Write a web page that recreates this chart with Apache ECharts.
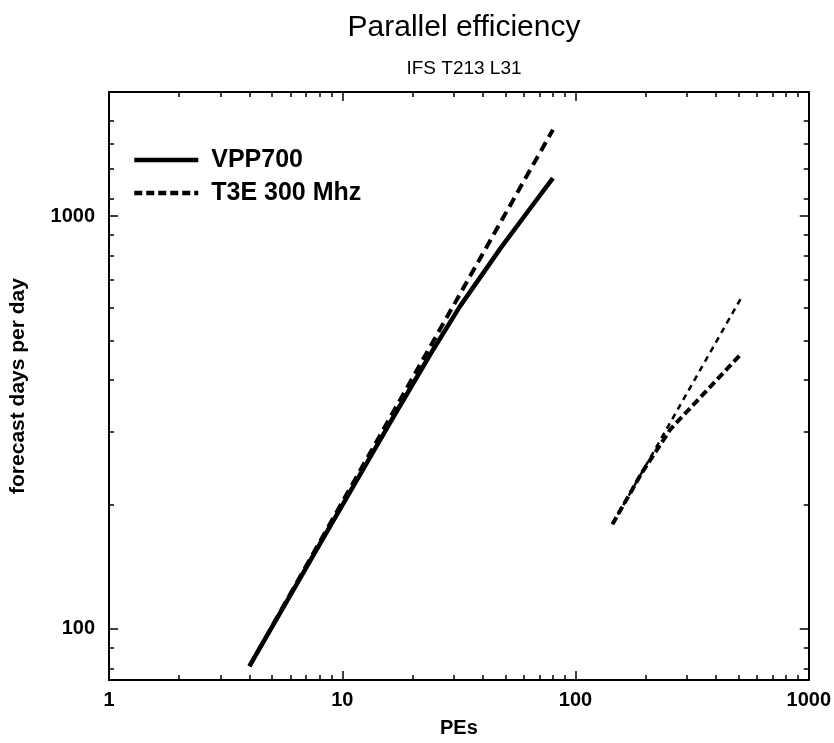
<!DOCTYPE html>
<html>
<head>
<meta charset="UTF-8">
<script src="https://cdn.jsdelivr.net/npm/echarts@6.0.0/dist/echarts.min.js"></script>
<style>
body { margin:0; padding:0; background:#fff; }
#chart { width:834px; height:743px; }
</style>
</head>
<body><div id="chart"></div>
<script>
// data (PEs vs forecast days per day)
var vppPEs = [4, 8, 16, 24, 32, 48, 64, 80];
var vppRate = [81, 160, 315, 465, 605, 840, 1045, 1237];
var vppIdealPEs = [4, 80];
var vppIdealRate = [81, 1620];
var t3ePEs = [144, 192, 256, 384, 512];
var t3eRate = [179, 238, 305, 389, 463];
var t3eIdealPEs = [144, 512];
var t3eIdealRate = [179, 632];

// ticks
var xMajor = [1, 10, 100, 1000];
var xMinor = [2, 3, 4, 5, 6, 7, 8, 9, 20, 30, 40, 50, 60, 70, 80, 90, 200, 300, 400, 500, 600, 700, 800, 900];
var yMajor = [100, 1000];
var yMinor = [80, 90, 200, 300, 400, 500, 600, 700, 800, 900, 1100, 1300, 1500, 1700];

var FONT = 'Liberation Sans';

function pairs(xs, ys) {
  return xs.map(function (x, i) { return [x, ys[i]]; });
}

function xAx(pos, ticks, len, showLine, showLabel) {
  return {
    type: 'log', logBase: 10, min: 1, max: 1000, position: pos, gridIndex: 0,
    axisLine: { show: showLine, lineStyle: { color: '#000', width: 2 } },
    axisTick: { show: true, inside: true, length: len, customValues: ticks, lineStyle: { color: '#000', width: 1.5 } },
    axisLabel: {
      show: showLabel, customValues: ticks, margin: 10,
      color: '#000', fontFamily: FONT, fontSize: 20, fontWeight: 'bold',
      formatter: function (v) { return String(v); }
    },
    splitLine: { show: false }
  };
}

function yAx(pos, ticks, len, showLine, showLabel) {
  return {
    type: 'log', logBase: 10, min: 75, max: 2000, position: pos, gridIndex: 0,
    axisLine: { show: showLine, lineStyle: { color: '#000', width: 2 } },
    axisTick: { show: true, inside: true, length: len, customValues: ticks, lineStyle: { color: '#000', width: 1.5 } },
    axisLabel: {
      show: showLabel, customValues: ticks, margin: 14,
      color: '#000', fontFamily: FONT, fontSize: 20, fontWeight: 'bold',
      formatter: function (v) { return String(v); }
    },
    splitLine: { show: false }
  };
}

var xMain = xAx('bottom', xMajor, 9, true, true);
xMain.name = 'PEs';
xMain.nameLocation = 'middle';
xMain.nameGap = 38;
xMain.nameTextStyle = { color: '#000', fontFamily: FONT, fontSize: 20, fontWeight: 'bold' };

var yMain = yAx('left', yMajor, 9, true, true);
yMain.name = 'forecast days per day';
yMain.nameLocation = 'middle';
yMain.nameGap = 80;
yMain.nameTextStyle = { color: '#000', fontFamily: FONT, fontSize: 21, fontWeight: 'bold' };

var chart = echarts.init(document.getElementById('chart'));
chart.setOption({
  animation: false,
  backgroundColor: '#fff',
  title: {
    text: 'Parallel efficiency',
    subtext: 'IFS T213 L31',
    left: 459, top: 8, textAlign: 'center', itemGap: 16,
    textStyle: { color: '#000', fontFamily: FONT, fontSize: 30, fontWeight: 'normal' },
    subtextStyle: { color: '#000', fontFamily: FONT, fontSize: 19 }
  },
  legend: {
    data: ['VPP700', 'T3E 300 Mhz'],
    orient: 'vertical', left: 127, top: 142,
    itemWidth: 64, itemHeight: 20, itemGap: 7,
    itemStyle: { opacity: 0 },
    lineStyle: { width: 4.5 },
    textStyle: { color: '#000', fontFamily: FONT, fontSize: 25, fontWeight: 'bold', lineHeight: 26, padding: [0, 0, 0, 8] }
  },
  grid: { left: 108, right: 23, top: 92, bottom: 58 },
  xAxis: [
    xMain,
    xAx('bottom', xMinor, 5, false, false),
    xAx('top', xMajor, 9, true, false),
    xAx('top', xMinor, 5, false, false)
  ],
  yAxis: [
    yMain,
    yAx('left', yMinor, 5, false, false),
    yAx('right', yMajor, 9, true, false),
    yAx('right', yMinor, 5, false, false)
  ],
  series: [
    {
      name: 'VPP700', type: 'line', symbol: 'none',
      data: pairs(vppPEs, vppRate),
      lineStyle: { color: '#000', width: 4.5 }, itemStyle: { color: '#000' }
    },
    {
      name: 'VPP700 ideal', type: 'line', symbol: 'none',
      data: pairs(vppIdealPEs, vppIdealRate),
      lineStyle: { color: '#000', width: 4, type: [10, 6] }, itemStyle: { color: '#000' }
    },
    {
      name: 'T3E 300 Mhz', type: 'line', symbol: 'none',
      data: pairs(t3ePEs, t3eRate),
      lineStyle: { color: '#000', width: 4, type: [8, 4] }, itemStyle: { color: '#000' }
    },
    {
      name: 'T3E 300 Mhz ideal', type: 'line', symbol: 'none',
      data: pairs(t3eIdealPEs, t3eIdealRate),
      lineStyle: { color: '#000', width: 2.5, type: [6, 5] }, itemStyle: { color: '#000' }
    }
  ]
});
</script>
</body></html>
